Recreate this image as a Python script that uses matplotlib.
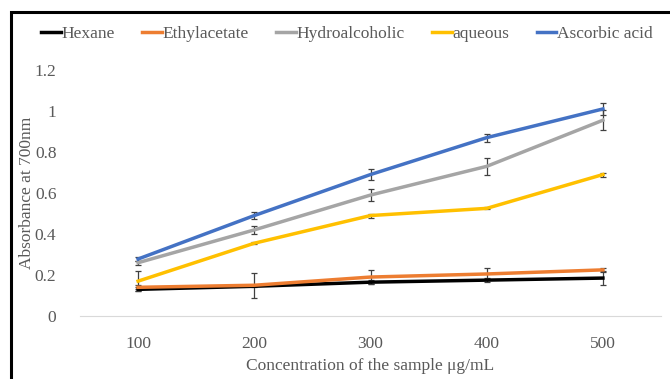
import numpy as np
import matplotlib
matplotlib.use("Agg")
from matplotlib import pyplot as plt
from matplotlib.patches import Rectangle
from matplotlib.lines import Line2D

plt.rcParams['font.family'] = ['Liberation Serif', 'DejaVu Serif']

conc = ["100", "200", "300", "400", "500"]

hexane = [0.13, 0.145, 0.165, 0.175, 0.185]
hexane_err = [0.01, 0.005, 0.01, 0.01, 0.035]
ethyl = [0.14, 0.15, 0.19, 0.205, 0.225]
ethyl_err = [0.01, 0.06, 0.035, 0.03, 0.01]
hydro = [0.26, 0.42, 0.59, 0.73, 0.955]
hydro_err = [0.01, 0.02, 0.03, 0.04, 0.05]
aqueous = [0.17, 0.355, 0.49, 0.525, 0.69]
aqueous_err = [0.05, 0.005, 0.01, 0.005, 0.01]
ascorbic = [0.278, 0.49, 0.69, 0.87, 1.01]
ascorbic_err = [0.01, 0.015, 0.025, 0.02, 0.03]

names = ["Hexane", "Ethylacetate", "Hydroalcoholic", "aqueous", "Ascorbic acid"]
colors = ["#000000", "#ED7D31", "#A5A5A5", "#FFC000", "#4472C4"]
series = [hexane, ethyl, hydro, aqueous, ascorbic]
errors = [hexane_err, ethyl_err, hydro_err, aqueous_err, ascorbic_err]

txt = "#595959"
fs = 12.5

fig = plt.figure(figsize=(6.7, 3.79), dpi=100)
ax = fig.add_axes([80 / 670, 1 - 316 / 379, 581 / 670, 246 / 379])

x = np.arange(len(conc))
for vals, err, c in zip(series, errors, colors):
    ax.errorbar(x, vals, yerr=err, color=c, lw=2.5,
                ecolor="#404040", elinewidth=0.9, capsize=2.5, capthick=0.9)

ax.set_xlim(-0.5, len(conc) - 0.5)
ax.set_ylim(0, 1.2)
ax.set_xticks(x)
ax.set_xticklabels(conc)
ax.set_yticks([0, 0.2, 0.4, 0.6, 0.8, 1, 1.2])
ax.set_yticklabels(["0", "0.2", "0.4", "0.6", "0.8", "1", "1.2"])
ax.tick_params(length=0, labelsize=fs, labelcolor=txt)
ax.tick_params(axis='x', pad=14.5)
ax.tick_params(axis='y', pad=17)
for s in ["top", "right", "left"]:
    ax.spines[s].set_visible(False)
ax.spines["bottom"].set_color("#D9D9D9")

ax.set_xlabel("Concentration of the sample μg/mL", fontsize=fs, color=txt, labelpad=4)
ax.set_ylabel("Absorbance at 700nm", fontsize=fs, color=txt, labelpad=0)

handles = [Line2D([], [], color=c, lw=2.5) for c in colors]
ax.legend(handles, names, loc="center", bbox_to_anchor=(347 / 670, (379 - 34) / 379),
          bbox_transform=fig.transFigure, ncol=5, frameon=False, fontsize=fs,
          handlelength=1.15, handletextpad=0.05, columnspacing=1.55, labelcolor=txt)

fig.patches.append(Rectangle((11 / 670, -0.1), 1.0, 1 - 12 / 379 + 0.1, transform=fig.transFigure,
                             fill=False, ec="black", lw=2.2))

fig.savefig("out.png", dpi=100)
